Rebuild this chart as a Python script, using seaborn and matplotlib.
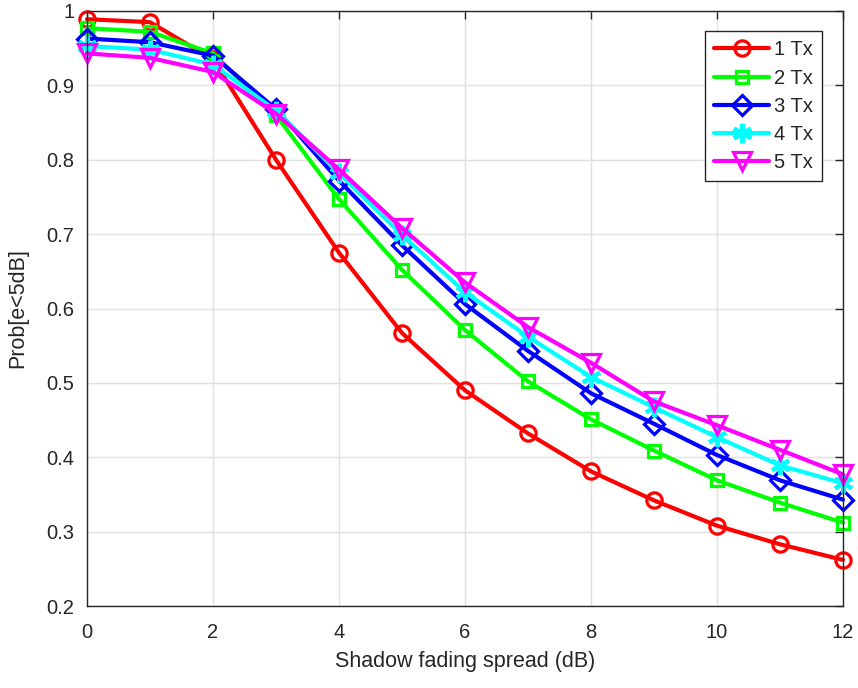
import matplotlib
matplotlib.use("Agg")
import matplotlib.pyplot as plt
import seaborn as sns
import pandas as pd
import numpy as np

spread = [0, 1, 2, 3, 4, 5, 6, 7, 8, 9, 10, 11, 12]
tx1 = [0.989, 0.985, 0.935, 0.800, 0.675, 0.567, 0.490, 0.432, 0.381, 0.342, 0.308, 0.283, 0.262]
tx2 = [0.977, 0.972, 0.943, 0.860, 0.747, 0.652, 0.571, 0.502, 0.451, 0.409, 0.369, 0.339, 0.312]
tx3 = [0.963, 0.958, 0.940, 0.868, 0.772, 0.685, 0.606, 0.543, 0.486, 0.445, 0.403, 0.369, 0.343]
tx4 = [0.953, 0.948, 0.928, 0.866, 0.782, 0.699, 0.622, 0.562, 0.508, 0.467, 0.427, 0.389, 0.365]
tx5 = [0.943, 0.937, 0.918, 0.862, 0.787, 0.708, 0.635, 0.575, 0.527, 0.475, 0.443, 0.410, 0.377]
labels = ["1 Tx", "2 Tx", "3 Tx", "4 Tx", "5 Tx"]

sns.set_style("white")
plt.rcParams['font.family'] = ['Liberation Sans', 'DejaVu Sans']

rows = []
for lab, vals in zip(labels, [tx1, tx2, tx3, tx4, tx5]):
    for x, v in zip(spread, vals):
        rows.append({"spread": x, "prob": v, "series": lab})
df = pd.DataFrame(rows)

colors = ["#ff0000", "#00ff00", "#0000ff", "#00ffff", "#ff00ff"]
markers = ["o", "s", "D", (6, 2, 0), "v"]
msizes = [11, 9, 10, 14, 13]
medges = [2.3, 2.3, 2.3, 3.0, 2.3]

fig = plt.figure(figsize=(8.58, 6.88), dpi=100)
ax = fig.add_axes([87/858, 1 - 606/688, (843-87)/858, (606-11)/688])

for lab, c, m, ms, mew in zip(labels, colors, markers, msizes, medges):
    sub = df[df["series"] == lab]
    sns.lineplot(data=sub, x="spread", y="prob", ax=ax, color=c, marker=m,
                 markersize=ms, markerfacecolor="none", markeredgecolor=c,
                 markeredgewidth=mew, linewidth=3, label=lab, clip_on=False)

ax.set_xlim(0, 12)
ax.set_ylim(0.2, 1.0)
ax.set_xticks(range(0, 13, 2))
ax.set_yticks(np.arange(0.2, 1.01, 0.1))
ax.set_yticklabels(["0.2", "0.3", "0.4", "0.5", "0.6", "0.7", "0.8", "0.9", "1"])
ax.grid(True, color="#e0e0e0", linewidth=1)
ax.tick_params(direction="in", length=6, width=1, colors="#262626", labelsize=14.5,
               top=True, right=True, labelcolor="#262626")
ax.tick_params(axis="x", pad=12)
ax.tick_params(axis="y", pad=9)
for s in ax.spines.values():
    s.set_color("#262626")
    s.set_linewidth(1)
    s.set_zorder(5)
ax.set_xlabel("Shadow fading spread (dB)", fontsize=15.5, color="#262626", labelpad=7)
ax.set_ylabel("Prob[e<5dB]", fontsize=15.5, color="#262626", labelpad=13)

leg = ax.legend(loc="upper right", bbox_to_anchor=(0.972, 0.966), fontsize=14.5,
                frameon=True, fancybox=False, edgecolor="#262626", framealpha=1,
                handlelength=2.7, handletextpad=0.25, labelspacing=0.46,
                borderpad=0.45, borderaxespad=0)
leg.get_frame().set_linewidth(1)

fig.savefig("out.png", dpi=100)
